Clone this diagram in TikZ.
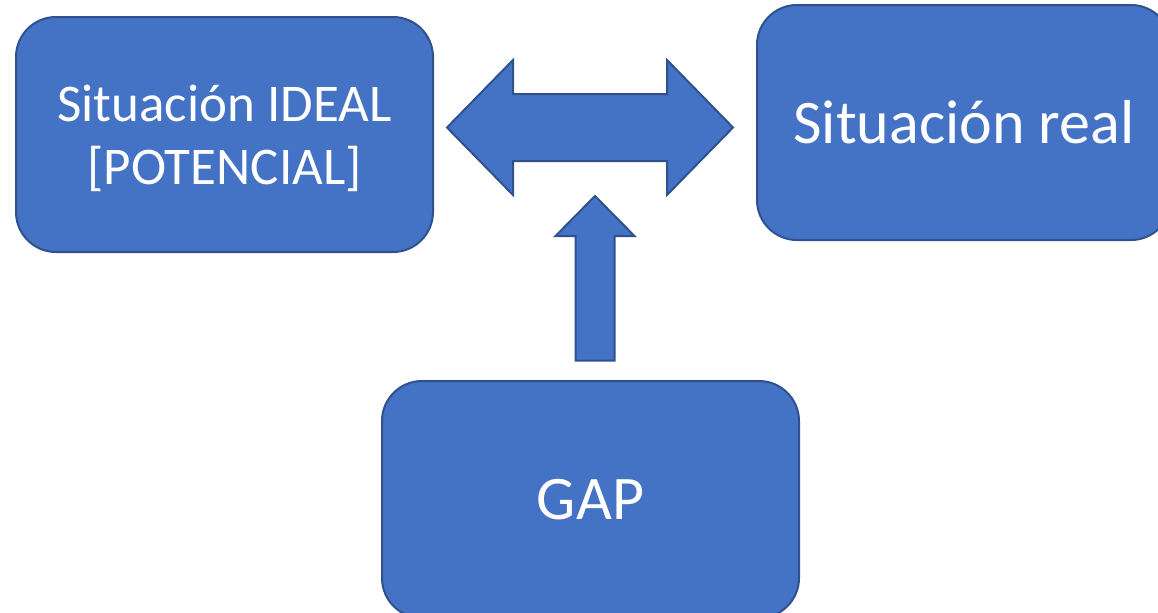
\documentclass[tikz,border=0pt]{standalone}
\usepackage{fontspec}
\setmainfont{Carlito}
\usepackage{tikz}

\definecolor{boxblue}{HTML}{4472C4}
\definecolor{edgeblue}{HTML}{2F528F}

\tikzset{
  situbox/.style={draw=edgeblue, fill=boxblue, line width=1.5pt, rounded corners=30pt,
    text=white, align=center, inner sep=0pt},
  blockarrow/.style={draw=edgeblue, fill=boxblue, line width=1.5pt, line join=miter}
}

\begin{document}
\begin{tikzpicture}[x=0.75pt,y=-0.75pt]

\useasboundingbox (0,0) rectangle (1158,612);
\clip (0,0) rectangle (1158,612);

% definitions
\coordinate (Lt) at (447,127.5); % left tip of the double arrow
\coordinate (Rt) at (733,127.5); % right tip of the double arrow
\coordinate (Ut) at (595,196);   % tip of the upward arrow

% drawing
\node[situbox, minimum width=312.75pt, minimum height=176.25pt, text depth=0pt,
  font=\fontsize{39.75}{47}\selectfont] (ideal) at (224.5,134.5)
  {Situación IDEAL\\{}[POTENCIAL]};
\node[situbox, minimum width=310.5pt, minimum height=176.25pt,
  font=\fontsize{46.5}{54}\selectfont] (real) at (964,122.5) {Situación real};
\node[situbox, minimum width=312.75pt, minimum height=177.75pt,
  font=\fontsize{46.5}{54}\selectfont] (gap) at (590.5,499.5) {GAP};

\draw[blockarrow] (Lt) -- ++(66,-67.5) -- ++(0,34) -- ++(154,0) -- ++(0,-34)
  -- (Rt) -- ++(-66,67.5) -- ++(0,-34) -- ++(-154,0) -- ++(0,34) -- cycle;
\draw[blockarrow] (Ut) -- ++(39.5,40) -- ++(-20,0) -- ++(0,124.5) -- ++(-39,0)
  -- ++(0,-124.5) -- ++(-20,0) -- cycle;

\end{tikzpicture}
\end{document}
